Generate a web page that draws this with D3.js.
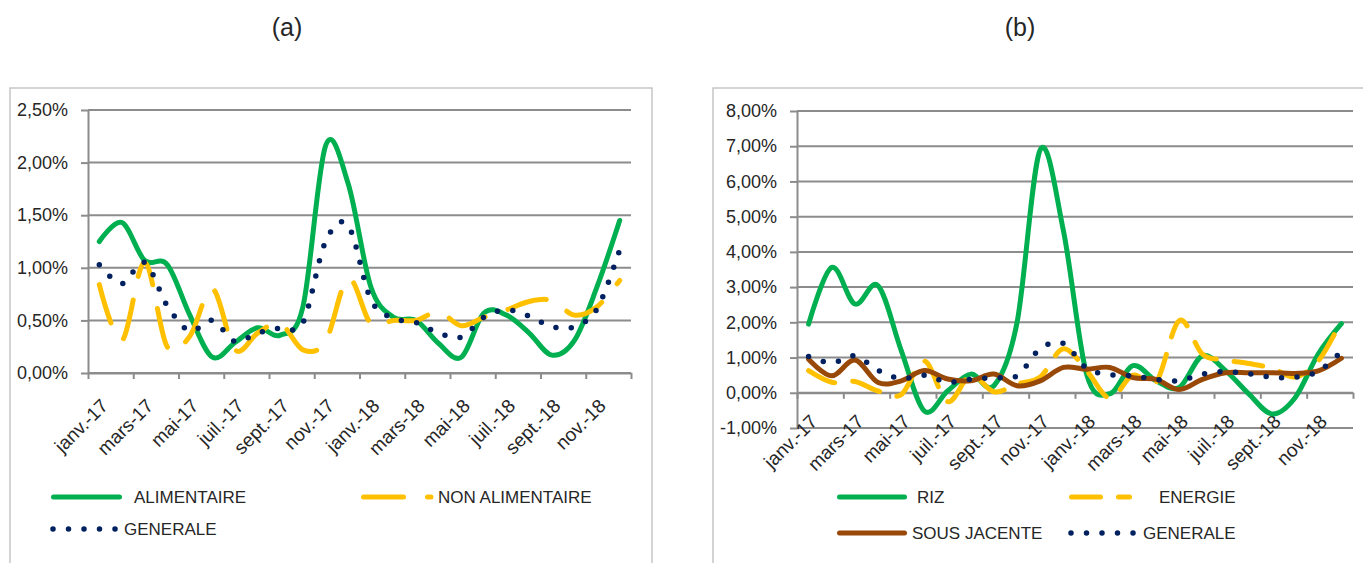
<!DOCTYPE html>
<html lang="fr"><head>
<meta charset="utf-8">
<title>Inflation</title>
<script src="https://cdn.jsdelivr.net/npm/d3@7"></script>
<style>
body { margin: 0; background: #fff; }
svg text { font-family: "Liberation Sans", Arial, sans-serif; fill: #262626; }
</style>
</head>
<body>
<script type="text/javascript">

// mois (un libellé sur deux affiché)
var months = ["janv.-17","févr.-17","mars-17","avr.-17","mai-17","juin-17","juil.-17","août-17",
  "sept.-17","oct.-17","nov.-17","déc.-17","janv.-18","févr.-18","mars-18","avr.-18",
  "mai-18","juin-18","juil.-18","août-18","sept.-18","oct.-18","nov.-18","déc.-18"];

// (a) valeurs en %
var alimentaire = [1.25,1.43,1.07,1.03,0.55,0.15,0.29,0.43,0.36,0.63,2.16,1.80,
  0.82,0.53,0.50,0.28,0.15,0.57,0.55,0.38,0.17,0.31,0.82,1.45];
var nonAlimentaire = [0.84,0.31,1.05,0.25,0.35,0.80,0.22,0.38,0.47,0.22,0.30,0.90,
  0.47,0.50,0.50,0.58,0.45,0.53,0.60,0.68,0.69,0.55,0.63,0.88];
var generale = [1.03,0.85,1.05,0.64,0.40,0.50,0.30,0.38,0.43,0.48,1.25,1.40,
  0.70,0.52,0.48,0.38,0.34,0.53,0.60,0.54,0.44,0.44,0.61,1.17];

// (b) valeurs en %
var riz = [1.95,3.56,2.52,3.04,1.20,-0.52,0.05,0.53,0.20,2.00,6.90,4.60,
  0.53,-0.03,0.77,0.34,0.15,1.05,0.63,-0.03,-0.60,-0.14,1.10,1.96];
var energie = [0.63,0.30,0.32,0.05,-0.05,0.90,-0.25,0.50,0.03,0.25,0.45,1.25,
  0.63,-0.15,0.50,0.30,2.05,1.10,0.93,0.83,0.70,0.45,0.90,2.05];
var sousJacente = [0.95,0.48,0.93,0.29,0.34,0.63,0.39,0.34,0.53,0.20,0.34,0.72,
  0.67,0.72,0.43,0.38,0.09,0.38,0.57,0.57,0.57,0.55,0.62,0.98];

var ticksA = [0, 0.5, 1, 1.5, 2, 2.5];
var ticksB = [-1, 0, 1, 2, 3, 4, 5, 6, 7, 8];

var width = 1363, height = 563;
var gridColor = "#8c8c8c";

var fr = d3.formatLocale({decimal: ",", thousands: " ", grouping: [3], currency: ["", "€"], minus: "-"});
var fmt = function(v) { return fr.format(".2f")(v) + "%"; };

var styles = {
    alimentaire: {color: "#00b050", width: 5, dash: null},
    riz: {color: "#00b050", width: 5, dash: null},
    nonAlimentaire: {color: "#ffc000", width: 5, dash: "40 24"},
    energie: {color: "#ffc000", width: 5, dash: "29 18"},
    sousJacente: {color: "#984807", width: 5, dash: null},
    generale: {color: "#002060", width: 5.5, dash: "0 15.5"}
};

var svg = d3.select("body").append("svg")
    .attr("width", width)
    .attr("height", height);

// cadres
svg.append("rect").attr("x", 10).attr("y", 88).attr("width", 642).attr("height", 520)
    .attr("fill", "none").attr("stroke", "#c6c6c6").attr("stroke-width", 1.5);
svg.append("rect").attr("x", 713).attr("y", 88).attr("width", 700).attr("height", 520)
    .attr("fill", "none").attr("stroke", "#c6c6c6").attr("stroke-width", 1.5);

svg.append("text").attr("x", 287).attr("y", 36).attr("text-anchor", "middle")
    .style("font-size", "25px").text("(a)");
svg.append("text").attr("x", 1020).attr("y", 36).attr("text-anchor", "middle")
    .style("font-size", "25px").text("(b)");

function applyStyle(sel, st) {
    sel.attr("fill", "none")
        .attr("stroke", st.color)
        .attr("stroke-width", st.width)
        .attr("stroke-linecap", "round")
        .attr("stroke-linejoin", "round");
    if (st.dash) sel.attr("stroke-dasharray", st.dash);
}

function drawChart(o) {
    var g = svg.append("g");
    var y = d3.scaleLinear().domain(o.domain).range([o.yBottom, o.yTop]);
    var xi = d3.scaleLinear().domain([0, months.length]).range([o.x0, o.x1]);
    var xc = function(i) { return xi(i + 0.5); };

    // grille
    g.selectAll(".grid").data(o.ticks).enter().append("line")
        .attr("x1", o.x0).attr("x2", o.x1)
        .attr("y1", function(d) { return y(d); })
        .attr("y2", function(d) { return y(d); })
        .attr("stroke", gridColor).attr("stroke-width", 2);

    var ya = g.append("g").attr("transform", "translate(" + o.x0 + ",0)")
        .call(d3.axisLeft(y).tickValues(o.ticks).tickSize(7).tickSizeOuter(0).tickPadding(13).tickFormat(fmt));
    ya.selectAll("text").style("font-size", "18px");

    g.append("g").attr("transform", "translate(0," + y(0) + ")")
        .call(d3.axisBottom(xi).tickValues(d3.range(0, months.length + 1, 2)).tickSize(6).tickSizeOuter(0).tickFormat(""));
    g.selectAll(".domain, .tick line").attr("stroke", gridColor).attr("stroke-width", 2);

    g.selectAll(".mlab").data(months.filter(function(d, i) { return i % 2 === 0; }))
        .enter().append("text")
        .attr("text-anchor", "end")
        .style("font-size", "19px")
        .attr("transform", function(d, k) {
            return "translate(" + (xc(k * 2) + 10) + "," + (y(0) + o.labOff) + ")rotate(-45)";
        })
        .text(function(d) { return d; });

    var line = d3.line()
        .x(function(d, i) { return xc(i); })
        .y(function(d) { return y(d); })
        .curve(d3.curveCardinal.tension(0));

    o.series.forEach(function(s) {
        g.append("path").datum(s.values).attr("d", line).call(applyStyle, styles[s.key]);
    });

    o.legend.forEach(function(l) {
        g.append("line").attr("x1", l.x1).attr("x2", l.x2).attr("y1", l.y).attr("y2", l.y)
            .call(applyStyle, styles[l.key]);
        g.append("text").attr("x", l.tx).attr("y", l.y).attr("dy", "0.35em")
            .style("font-size", "17px").text(l.name);
    });
}

drawChart({
    x0: 88, x1: 631, yTop: 110, yBottom: 373, domain: [0, 2.5], ticks: ticksA, labOff: 34,
    series: [
        {key: "alimentaire", values: alimentaire},
        {key: "nonAlimentaire", values: nonAlimentaire},
        {key: "generale", values: generale}
    ],
    legend: [
        {key: "alimentaire", name: "ALIMENTAIRE", x1: 53.5, x2: 119.5, y: 497, tx: 134},
        {key: "nonAlimentaire", name: "NON ALIMENTAIRE", x1: 363.5, x2: 431, y: 497, tx: 438},
        {key: "generale", name: "GENERALE", x1: 53, x2: 116, y: 529, tx: 124}
    ]
});

drawChart({
    x0: 797, x1: 1353, yTop: 111, yBottom: 428, domain: [-1, 8], ticks: ticksB, labOff: 30,
    series: [
        {key: "riz", values: riz},
        {key: "energie", values: energie},
        {key: "sousJacente", values: sousJacente},
        {key: "generale", values: generale}
    ],
    legend: [
        {key: "riz", name: "RIZ", x1: 839.5, x2: 904.5, y: 497, tx: 917},
        {key: "energie", name: "ENERGIE", x1: 1071.5, x2: 1129.5, y: 497, tx: 1159},
        {key: "sousJacente", name: "SOUS JACENTE", x1: 839.5, x2: 904.5, y: 533, tx: 912},
        {key: "generale", name: "GENERALE", x1: 1071, x2: 1134, y: 533, tx: 1143}
    ]
});

</script>
</body></html>
